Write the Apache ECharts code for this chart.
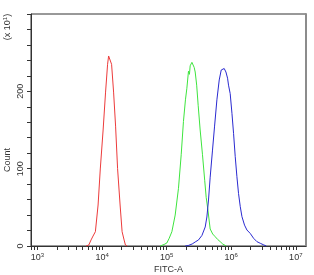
<!DOCTYPE html>
<html><head><meta charset="utf-8">
<script src="https://cdn.jsdelivr.net/npm/echarts@6/dist/echarts.min.js"></script>
<style>html,body{margin:0;padding:0;background:#fff}#c{width:314px;height:275px}</style>
</head><body><div id="c"></div>
<script>
// x values are log10(FITC-A), y values are event counts
const redLog   = [3.752,3.794,3.829,3.860,3.896,3.938,3.972,4.016,4.054,4.085,4.101,4.113,4.129,4.147,4.178,4.209,4.240,4.279,4.310,4.341,4.361,4.388];
const redCount = [0,1.3,7.8,12.9,18.5,53,99.6,150,199,235,245.7,247.9,246.6,235,199,155,100,53,18.5,7.8,1.3,0];

const greenLog   = [4.899,4.926,4.961,5.003,5.039,5.081,5.132,5.183,5.225,5.260,5.291,5.313,5.338,5.353,5.364,5.391,5.406,5.426,5.442,5.465,5.488,5.519,5.555,5.589,5.612,5.639,5.674,5.713,5.752,5.791,5.829,5.868,5.896,5.922];
const greenCount = [0,0.6,2,3.9,10,18.5,40,74.6,118,161,189,204,226,222,233,237.5,237,231,225,208,182,150,118,85,63,46.5,22,15.5,12,8.4,5.6,2.6,0.9,0];

const blueLog   = [5.287,5.333,5.395,5.442,5.493,5.546,5.597,5.623,5.648,5.674,5.710,5.741,5.778,5.814,5.845,5.868,5.891,5.918,5.943,5.958,5.984,6.011,6.036,6.062,6.088,6.113,6.140,6.166,6.206,6.243,6.295,6.346,6.398,6.450,6.496,6.543];
const blueCount = [0,0.6,2.6,5.2,7.8,13.6,24.6,37.5,59.5,89,124,154,189,214.7,227.6,230,229.5,225,217,208,197,171.6,145.7,115.5,89.6,68,50.8,38,27,20.7,16.2,10,5.6,3.5,1.7,0];

const xDecades = [3,4,5,6,7];          // tick labels 10^3 ... 10^7
const yTickLabels = [0,100,200];
const xMin = 2.899, xMax = 7.158;

const xTicks = [];
for (let d = 2; d <= 7; d++) {
  for (let k = 1; k <= 9; k++) {
    const v = d + Math.log10(k);
    if (v >= xMin && v <= xMax) xTicks.push(v);
  }
}
const pairs = (xs, ys) => xs.map((x, i) => [x, ys[i]]);

const FONT = 'Liberation Sans';
const chart = echarts.init(document.getElementById('c'));
chart.setOption({
  animation: false,
  backgroundColor: '#fff',
  grid: {left: 31, right: 8, top: 14, bottom: 29, show: true, borderColor: '#333', borderWidth: 1,
         containLabel: false, outerBoundsMode: 'none'},
  xAxis: {
    type: 'value', min: xMin, max: xMax,
    name: 'FITC-A', nameLocation: 'middle', nameGap: 19, nameMoveOverlap: false,
    nameTextStyle: {fontFamily: FONT, fontSize: 9, color: '#333'},
    axisLine: {show: true, lineStyle: {color: '#333', width: 1}},
    axisTick: {show: true, customValues: xTicks, length: 4, inside: false, lineStyle: {color: '#333'}},
    axisLabel: {
      customValues: xDecades, margin: 6,
      formatter: v => '{b|10}{s|' + Math.round(v) + '}',
      rich: {
        b: {fontFamily: FONT, fontSize: 9, color: '#333'},
        s: {fontFamily: FONT, fontSize: 6, color: '#333', padding: [0, 0, 5, 0]}
      }
    },
    splitLine: {show: false}
  },
  yAxis: [{
    type: 'value', min: 0, max: 300, interval: 20,
    axisLine: {show: true, lineStyle: {color: '#333', width: 1}},
    axisTick: {show: true, length: 4, inside: false, lineStyle: {color: '#333'}},
    axisLabel: {customValues: yTickLabels, rotate: 90, margin: 6, fontFamily: FONT, fontSize: 9, color: '#333'},
    splitLine: {show: false}
  }, {
    type: 'value', min: 0, max: 300, position: 'right',
    axisLine: {show: true, lineStyle: {color: '#8c8c8c', width: 2}},
    axisTick: {show: false}, axisLabel: {show: false}, splitLine: {show: false}
  }],
  graphic: [
    {type: 'text', x: 8, y: 160, rotation: Math.PI / 2,
     style: {text: 'Count', fontFamily: FONT, fontSize: 9, fill: '#333', align: 'center', verticalAlign: 'middle'}},
    {type: 'text', x: 8, y: 27, rotation: Math.PI / 2,
     style: {text: '(x 10{s|1})', fontFamily: FONT, fontSize: 9, fill: '#333', align: 'center', verticalAlign: 'middle',
       rich: {s: {fontFamily: FONT, fontSize: 6, fill: '#333', padding: [0, 0, 5, 0]}}}}
  ],
  series: [
    {type: 'line', data: pairs(redLog, redCount), showSymbol: false, lineStyle: {color: '#ec3b3b', width: 1}},
    {type: 'line', data: pairs(greenLog, greenCount), showSymbol: false, lineStyle: {color: '#3ee43e', width: 1}},
    {type: 'line', data: pairs(blueLog, blueCount), showSymbol: false, lineStyle: {color: '#2a2ad0', width: 1}}
  ]
});
</script>
</body></html>
